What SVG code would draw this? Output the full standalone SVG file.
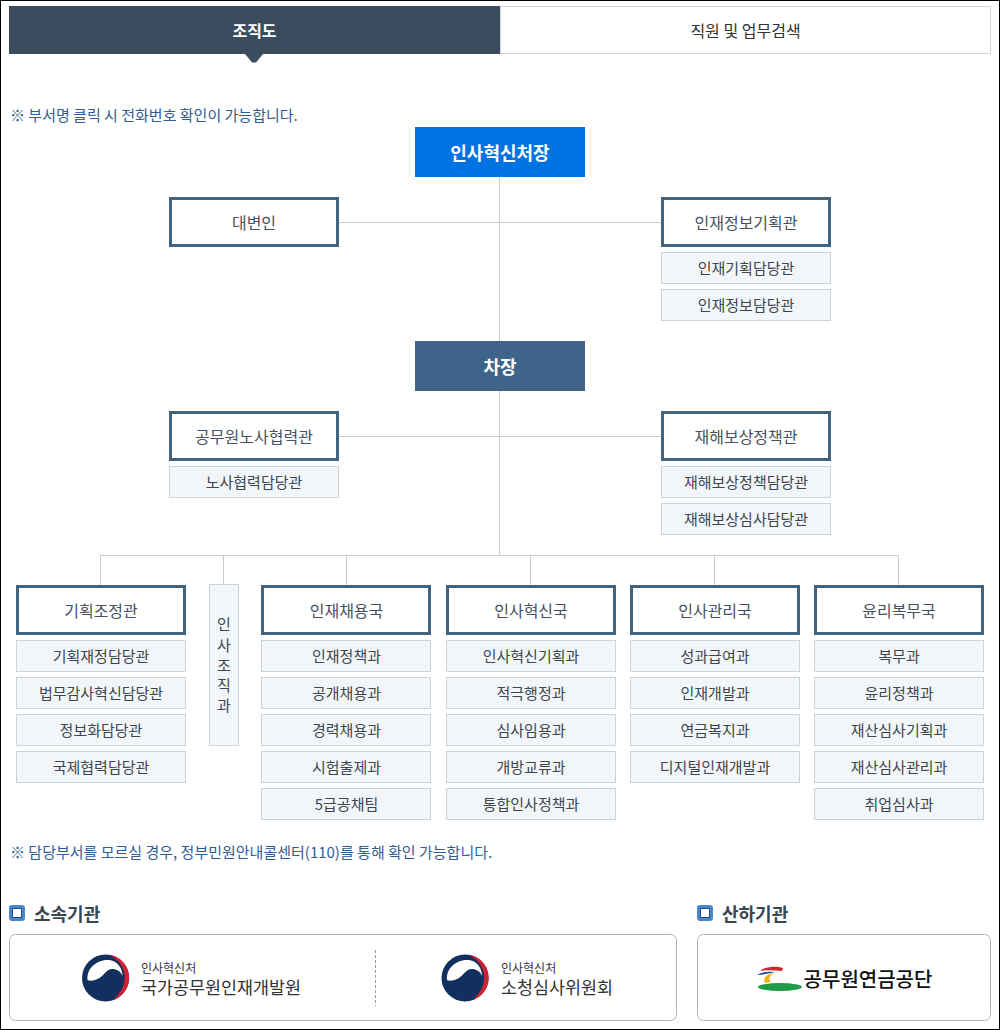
<svg xmlns="http://www.w3.org/2000/svg" width="1000" height="1030" viewBox="0 0 1000 1030">
<style>
text{font-family:"Noto Sans CJK KR","Noto Sans",sans-serif;text-anchor:middle;dominant-baseline:central}
.h rect{fill:#fff;stroke:#44637f;stroke-width:3}
.h text{font-size:16px;fill:#46525f}
.s rect{fill:#f2f6f9;stroke:#c9d4dc;stroke-width:1}
.s text{font-size:15px;fill:#3d4650}
.t rect{fill:#0073e2}
.c rect{fill:#3e6589}
.t text,.c text{font-size:18px;font-weight:700;fill:#fff}
.l{fill:none;stroke:#c8cdd1;stroke-width:1}
.note{font-size:15px;fill:#2f5d93;text-anchor:start}
.sec{font-size:18px;font-weight:700;fill:#3a4552;text-anchor:start}
.logo{fill:#fff;stroke:#b3b3b3;stroke-width:1}
.m1{font-size:12px;fill:#333;text-anchor:start}
.m2{font-size:17.400px;fill:#333;text-anchor:start}
</style>
<defs>
<g id="tg">
<circle r="23.500" fill="#12305f"/>
<path d="M-18 2C-19-12-6-19 4-18 12-17 17-10 17-2 15-7 11-9 7-9 0-9-2-1-8 1-12 3-16 3-18 2Z" fill="#fff"/>
<path d="M3-23.500A23.500 23.500 0 0 1 8 22C16 14 20 6 19-3 18-13 11-20 3-23.500Z" fill="#cf2233"/>
</g>
<g id="sq"><rect width="16" height="16" rx="3" fill="#4a86c8"/><rect x="3.500" y="3.500" width="9" height="9" fill="#fff" stroke="#1f4f86"/></g>
</defs>
<rect width="1000" height="1030" fill="#fff"/>
<rect x="0.500" y="0.500" width="999" height="1029" fill="none" stroke="#000"/>

<g id="tabs">
<rect x="9" y="6" width="491" height="48" fill="#3a4c5e"/>
<path d="M245 54H263L256 62.500H252Z" fill="#3a4c5e"/>
<rect x="500.500" y="6.500" width="490" height="47" fill="#fff" stroke="#d5d5d5"/>
<text x="254.500" y="30" font-size="16" font-weight="700" fill="#fff">조직도</text>
<text x="745.500" y="30" font-size="16" fill="#333">직원 및 업무검색</text>
</g>
<text class="note" x="10" y="114.500">※ 부서명 클릭 시 전화번호 확인이 가능합니다.</text>

<g id="connectors">
<path class="l" d="M499.500 177V555.500M338 222.500H661M338 436.500H661M100.500 585V555.500H898.500V585M223.500 555.500V584M346.500 555.500V585M530.500 555.500V585M714.500 555.500V585"/>
</g>

<g id="n-top" class="t"><rect x="415" y="127" width="170" height="50"/><text x="500" y="152">인사혁신처장</text></g>
<g id="n-vice" class="c"><rect x="415" y="341" width="170" height="50"/><text x="500" y="366">차장</text></g>

<g id="n-spokes" class="h"><rect x="170.500" y="198.500" width="167" height="47"/><text x="254" y="221.500">대변인</text></g>
<g id="n-info" class="h"><rect x="662.500" y="198.500" width="167" height="47"/><text x="746" y="221.500">인재정보기획관</text></g>
<g id="n-info1" class="s"><rect x="661.500" y="252.500" width="169" height="31"/><text x="746" y="267">인재기획담당관</text></g>
<g id="n-info2" class="s"><rect x="661.500" y="289.500" width="169" height="31"/><text x="746" y="304">인재정보담당관</text></g>

<g id="n-labor" class="h"><rect x="170.500" y="412.500" width="167" height="47"/><text x="254" y="435.500">공무원노사협력관</text></g>
<g id="n-labor1" class="s"><rect x="169.500" y="466.500" width="169" height="31"/><text x="254" y="481">노사협력담당관</text></g>
<g id="n-comp" class="h"><rect x="662.500" y="412.500" width="167" height="47"/><text x="746" y="435.500">재해보상정책관</text></g>
<g id="n-comp1" class="s"><rect x="661.500" y="466.500" width="169" height="31"/><text x="746" y="481">재해보상정책담당관</text></g>
<g id="n-comp2" class="s"><rect x="661.500" y="503.500" width="169" height="31"/><text x="746" y="518">재해보상심사담당관</text></g>

<g id="n-plan" class="h"><rect x="17.500" y="586.500" width="167" height="47"/><text x="101" y="609.500">기획조정관</text></g>
<g id="n-plan1" class="s"><rect x="16.500" y="640.500" width="169" height="31"/><text x="101" y="655">기획재정담당관</text></g>
<g id="n-plan2" class="s"><rect x="16.500" y="677.500" width="169" height="31"/><text x="101" y="692">법무감사혁신담당관</text></g>
<g id="n-plan3" class="s"><rect x="16.500" y="714.500" width="169" height="31"/><text x="101" y="729">정보화담당관</text></g>
<g id="n-plan4" class="s"><rect x="16.500" y="751.500" width="169" height="31"/><text x="101" y="766">국제협력담당관</text></g>

<g id="n-org" class="s"><rect x="209.500" y="584.500" width="29" height="161"/>
<text x="224" y="623">인</text><text x="224" y="644">사</text><text x="224" y="664">조</text><text x="224" y="684">직</text><text x="224" y="704">과</text></g>

<g id="n-rec" class="h"><rect x="262.500" y="586.500" width="167" height="47"/><text x="346.500" y="609.500">인재채용국</text></g>
<g id="n-rec1" class="s"><rect x="261.500" y="640.500" width="169" height="31"/><text x="346.500" y="655">인재정책과</text></g>
<g id="n-rec2" class="s"><rect x="261.500" y="677.500" width="169" height="31"/><text x="346.500" y="692">공개채용과</text></g>
<g id="n-rec3" class="s"><rect x="261.500" y="714.500" width="169" height="31"/><text x="346.500" y="729">경력채용과</text></g>
<g id="n-rec4" class="s"><rect x="261.500" y="751.500" width="169" height="31"/><text x="346.500" y="766">시험출제과</text></g>
<g id="n-rec5" class="s"><rect x="261.500" y="788.500" width="169" height="31"/><text x="346.500" y="803">5급공채팀</text></g>

<g id="n-inn" class="h"><rect x="447.500" y="586.500" width="167" height="47"/><text x="531" y="609.500">인사혁신국</text></g>
<g id="n-inn1" class="s"><rect x="446.500" y="640.500" width="169" height="31"/><text x="531" y="655">인사혁신기획과</text></g>
<g id="n-inn2" class="s"><rect x="446.500" y="677.500" width="169" height="31"/><text x="531" y="692">적극행정과</text></g>
<g id="n-inn3" class="s"><rect x="446.500" y="714.500" width="169" height="31"/><text x="531" y="729">심사임용과</text></g>
<g id="n-inn4" class="s"><rect x="446.500" y="751.500" width="169" height="31"/><text x="531" y="766">개방교류과</text></g>
<g id="n-inn5" class="s"><rect x="446.500" y="788.500" width="169" height="31"/><text x="531" y="803">통합인사정책과</text></g>

<g id="n-mgt" class="h"><rect x="631.500" y="586.500" width="167" height="47"/><text x="715" y="609.500">인사관리국</text></g>
<g id="n-mgt1" class="s"><rect x="630.500" y="640.500" width="169" height="31"/><text x="715" y="655">성과급여과</text></g>
<g id="n-mgt2" class="s"><rect x="630.500" y="677.500" width="169" height="31"/><text x="715" y="692">인재개발과</text></g>
<g id="n-mgt3" class="s"><rect x="630.500" y="714.500" width="169" height="31"/><text x="715" y="729">연금복지과</text></g>
<g id="n-mgt4" class="s"><rect x="630.500" y="751.500" width="169" height="31"/><text x="715" y="766">디지털인재개발과</text></g>

<g id="n-eth" class="h"><rect x="815.500" y="586.500" width="167" height="47"/><text x="899" y="609.500">윤리복무국</text></g>
<g id="n-eth1" class="s"><rect x="814.500" y="640.500" width="169" height="31"/><text x="899" y="655">복무과</text></g>
<g id="n-eth2" class="s"><rect x="814.500" y="677.500" width="169" height="31"/><text x="899" y="692">윤리정책과</text></g>
<g id="n-eth3" class="s"><rect x="814.500" y="714.500" width="169" height="31"/><text x="899" y="729">재산심사기획과</text></g>
<g id="n-eth4" class="s"><rect x="814.500" y="751.500" width="169" height="31"/><text x="899" y="766">재산심사관리과</text></g>
<g id="n-eth5" class="s"><rect x="814.500" y="788.500" width="169" height="31"/><text x="899" y="803">취업심사과</text></g>

<text class="note" x="10" y="851.500">※ 담당부서를 모르실 경우, 정부민원안내콜센터(110)를 통해 확인 가능합니다.</text>

<g id="sec1"><use href="#sq" x="9" y="905"/><text class="sec" x="34" y="913">소속기관</text>
<rect class="logo" x="9.500" y="934.500" width="667" height="86" rx="6"/>
<path d="M375.500 950V1006" stroke="#999" stroke-dasharray="3 2" fill="none"/>
<use href="#tg" x="105.500" y="978"/>
<text class="m1" x="141" y="967.500">인사혁신처</text><text class="m2" x="141" y="986.500">국가공무원인재개발원</text>
<use href="#tg" x="465" y="978"/>
<text class="m1" x="501" y="967.500">인사혁신처</text><text class="m2" x="501" y="986.500">소청심사위원회</text>
</g>

<g id="sec2"><use href="#sq" x="697" y="905"/><text class="sec" x="722" y="913">산하기관</text>
<rect class="logo" x="697.500" y="934.500" width="293" height="86" rx="6"/>
<path d="M760 971C766 966 776 966 783 968L782 971C774 970 766 970 760 971Z" fill="#d5232c"/>
<path d="M757 975C762 972 768 971 775 972 769 973 764 975 757 975Z" fill="#1b4c9c"/>
<path d="M765 983C762 978 767 974 774 973 769 976 768 979 771 982Z" fill="#f0b21a"/>
<ellipse cx="780" cy="987" rx="22" ry="4" fill="#1f9a45"/>
<text x="868" y="978" font-size="20" font-weight="500" fill="#111">공무원연금공단</text>
</g>
</svg>
